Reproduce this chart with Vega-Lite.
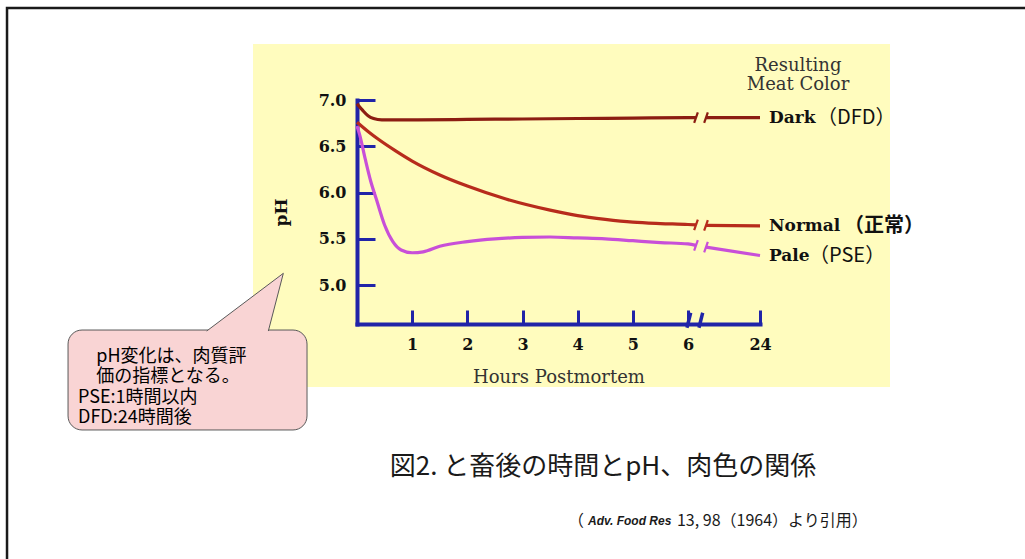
{
  "$schema": "https://vega.github.io/schema/vega-lite/v6.json",
  "width": 637,
  "height": 343,
  "autosize": {"type": "none"},
  "padding": {"left": 253, "top": 44, "right": 135, "bottom": 172},
  "background": "#ffffff",
  "config": {
    "view": {"stroke": null, "fill": "#FFFCBE"},
    "axis": {"grid": false}
  },
  "datasets": {
    "curves": [
      {"series": "Dark", "seg": "A", "hour": 0, "pH": 6.96},
      {"series": "Dark", "seg": "A", "hour": 0.1, "pH": 6.89},
      {"series": "Dark", "seg": "A", "hour": 0.2, "pH": 6.83},
      {"series": "Dark", "seg": "A", "hour": 0.3, "pH": 6.8},
      {"series": "Dark", "seg": "A", "hour": 0.45, "pH": 6.785},
      {"series": "Dark", "seg": "A", "hour": 1, "pH": 6.785},
      {"series": "Dark", "seg": "A", "hour": 2, "pH": 6.79},
      {"series": "Dark", "seg": "A", "hour": 3, "pH": 6.795},
      {"series": "Dark", "seg": "A", "hour": 4, "pH": 6.8},
      {"series": "Dark", "seg": "A", "hour": 5, "pH": 6.805},
      {"series": "Dark", "seg": "A", "hour": 6, "pH": 6.81},
      {"series": "Dark", "seg": "A", "hour": 8, "pH": 6.81},
      {"series": "Dark", "seg": "B", "hour": 10.5, "pH": 6.81},
      {"series": "Dark", "seg": "B", "hour": 24, "pH": 6.81},
      {"series": "Normal", "seg": "A", "hour": 0, "pH": 6.76},
      {"series": "Normal", "seg": "A", "hour": 0.2, "pH": 6.66},
      {"series": "Normal", "seg": "A", "hour": 0.4, "pH": 6.57},
      {"series": "Normal", "seg": "A", "hour": 0.7, "pH": 6.45},
      {"series": "Normal", "seg": "A", "hour": 1, "pH": 6.34},
      {"series": "Normal", "seg": "A", "hour": 1.5, "pH": 6.19},
      {"series": "Normal", "seg": "A", "hour": 2, "pH": 6.07},
      {"series": "Normal", "seg": "A", "hour": 2.7, "pH": 5.93},
      {"series": "Normal", "seg": "A", "hour": 3.5, "pH": 5.81},
      {"series": "Normal", "seg": "A", "hour": 4, "pH": 5.75},
      {"series": "Normal", "seg": "A", "hour": 4.5, "pH": 5.71},
      {"series": "Normal", "seg": "A", "hour": 5, "pH": 5.68},
      {"series": "Normal", "seg": "A", "hour": 5.5, "pH": 5.665},
      {"series": "Normal", "seg": "A", "hour": 6, "pH": 5.655},
      {"series": "Normal", "seg": "A", "hour": 8, "pH": 5.65},
      {"series": "Normal", "seg": "B", "hour": 10.5, "pH": 5.645},
      {"series": "Normal", "seg": "B", "hour": 24, "pH": 5.64},
      {"series": "Pale", "seg": "A", "hour": 0, "pH": 6.72},
      {"series": "Pale", "seg": "A", "hour": 0.05, "pH": 6.62},
      {"series": "Pale", "seg": "A", "hour": 0.15, "pH": 6.36},
      {"series": "Pale", "seg": "A", "hour": 0.25, "pH": 6.12},
      {"series": "Pale", "seg": "A", "hour": 0.35, "pH": 5.93},
      {"series": "Pale", "seg": "A", "hour": 0.5, "pH": 5.65},
      {"series": "Pale", "seg": "A", "hour": 0.65, "pH": 5.47},
      {"series": "Pale", "seg": "A", "hour": 0.8, "pH": 5.38},
      {"series": "Pale", "seg": "A", "hour": 1, "pH": 5.35},
      {"series": "Pale", "seg": "A", "hour": 1.2, "pH": 5.36},
      {"series": "Pale", "seg": "A", "hour": 1.5, "pH": 5.42},
      {"series": "Pale", "seg": "A", "hour": 2, "pH": 5.47},
      {"series": "Pale", "seg": "A", "hour": 2.5, "pH": 5.5},
      {"series": "Pale", "seg": "A", "hour": 3, "pH": 5.515},
      {"series": "Pale", "seg": "A", "hour": 3.5, "pH": 5.52},
      {"series": "Pale", "seg": "A", "hour": 4, "pH": 5.51},
      {"series": "Pale", "seg": "A", "hour": 4.5, "pH": 5.5},
      {"series": "Pale", "seg": "A", "hour": 5, "pH": 5.48},
      {"series": "Pale", "seg": "A", "hour": 5.5, "pH": 5.46},
      {"series": "Pale", "seg": "A", "hour": 6, "pH": 5.445},
      {"series": "Pale", "seg": "A", "hour": 8, "pH": 5.43},
      {"series": "Pale", "seg": "B", "hour": 10.5, "pH": 5.41},
      {"series": "Pale", "seg": "B", "hour": 24, "pH": 5.32}
    ]
  },
  "layer": [
    {
      "data": {"name": "curves"},
      "mark": {"type": "line", "interpolate": "monotone", "strokeWidth": 3.2, "strokeCap": "butt"},
      "encoding": {
        "x": {
          "field": "hour", "type": "quantitative",
          "scale": {"domain": [0, 6, 24], "range": [104, 435, 507], "nice": false, "zero": false},
          "axis": {
            "values": [1, 2, 3, 4, 5, 6, 24], "offset": -63,
            "domainColor": "#2024a8", "domainWidth": 4, "domainCap": "square",
            "tickColor": "#2024a8", "tickWidth": 3, "tickSize": -14,
            "labelFont": "DejaVu Serif", "labelFontWeight": "bold", "labelFontSize": 16, "labelColor": "#111111",
            "labelPadding": 34, "labelBaseline": "middle", "labelFlush": false, "labelOverlap": false,
            "title": "Hours Postmortem", "titleFont": "DejaVu Serif", "titleFontWeight": "normal", "titleFontSize": 18, "titleColor": "#333333", "titleY": 53, "titleBaseline": "middle"
          }
        },
        "y": {
          "field": "pH", "type": "quantitative",
          "scale": {"domain": [4.58, 7.0], "range": [280, 56], "nice": false, "zero": false},
          "axis": {
            "values": [5, 5.5, 6, 6.5, 7], "format": ".1f", "offset": -104,
            "domainColor": "#2024a8", "domainWidth": 4, "domainCap": "square",
            "tickColor": "#2024a8", "tickWidth": 3, "tickSize": -18,
            "labelFont": "DejaVu Serif", "labelFontWeight": "bold", "labelFontSize": 16, "labelColor": "#111111",
            "labelPadding": 29, "labelAlign": "right", "labelBaseline": "middle", "labelFlush": false, "labelOverlap": false,
            "title": "pH", "titleFont": "DejaVu Serif", "titleFontWeight": "bold", "titleFontSize": 17, "titleColor": "#111111",
            "titleX": -76, "titleY": 168, "titleAngle": -90, "titleAlign": "center", "titleBaseline": "middle"
          }
        },
        "color": {"field": "series", "type": "nominal", "scale": {"domain": ["Dark", "Normal", "Pale"], "range": ["#8c1d12", "#b72b1c", "#c84fd8"]}, "legend": null},
        "detail": {"field": "seg"}
      }
    },
    {
      "data": {"values": [{}]},
      "mark": {"type": "rect", "fill": "#ffffff", "fillOpacity": 0, "stroke": "#1a1a1a", "strokeWidth": 2.5},
      "encoding": {
        "x": {"datum": -6.344, "type": "quantitative", "scale": {"domain": [0, 6, 24], "range": [104, 435, 507], "nice": false, "zero": false}},
        "x2": {"datum": 91.5},
        "y": {"datum": 7.994, "type": "quantitative", "scale": {"domain": [4.58, 7.0], "range": [280, 56], "nice": false, "zero": false}},
        "y2": {"datum": 1.922}
      }
    },
    {
      "data": {"values": [{}]},
      "mark": {"type": "rect", "fill": "#F9D4D4", "stroke": "#595959", "strokeWidth": 1, "cornerRadius": 14},
      "encoding": {
        "x": {"datum": -5.238, "type": "quantitative", "scale": {"domain": [0, 6, 24], "range": [104, 435, 507], "nice": false, "zero": false}},
        "x2": {"datum": -0.906},
        "y": {"datum": 4.515, "type": "quantitative", "scale": {"domain": [4.58, 7.0], "range": [280, 56], "nice": false, "zero": false}},
        "y2": {"datum": 3.435}
      }
    },
    {
      "data": {"values": [{}]},
      "mark": {"type": "point", "shape": "M -0.958 0.75 L 0.958 -0.693 L 0.583 0.75", "size": 6400, "filled": true, "fill": "#F9D4D4", "stroke": "#595959", "strokeWidth": 1, "opacity": 1},
      "encoding": {
        "x": {"datum": -2.03, "type": "quantitative", "scale": {"domain": [0, 6, 24], "range": [104, 435, 507], "nice": false, "zero": false}},
        "y": {"datum": 4.828, "type": "quantitative", "scale": {"domain": [4.58, 7.0], "range": [280, 56], "nice": false, "zero": false}}
      }
    },
    {
      "data": {"values": [{}]},
      "mark": {"type": "text", "align": "left", "baseline": "middle", "font": "Noto Sans CJK JP", "fontSize": 18, "lineHeight": 20.3, "color": "#000000"},
      "encoding": {
        "x": {"datum": -4.725, "type": "quantitative", "scale": {"domain": [0, 6, 24], "range": [104, 435, 507], "nice": false, "zero": false}},
        "y": {"datum": 4.223, "type": "quantitative", "scale": {"domain": [4.58, 7.0], "range": [280, 56], "nice": false, "zero": false}},
        "text": {"value": ["pH変化は、肉質評", "価の指標となる。"]}
      }
    },
    {
      "data": {"values": [{}]},
      "mark": {"type": "text", "align": "left", "baseline": "middle", "font": "Noto Sans CJK JP", "fontSize": 18, "lineHeight": 20.3, "color": "#000000"},
      "encoding": {
        "x": {"datum": -5.057, "type": "quantitative", "scale": {"domain": [0, 6, 24], "range": [104, 435, 507], "nice": false, "zero": false}},
        "y": {"datum": 3.783, "type": "quantitative", "scale": {"domain": [4.58, 7.0], "range": [280, 56], "nice": false, "zero": false}},
        "text": {"value": ["PSE:1時間以内", "DFD:24時間後"]}
      }
    },
    {
      "data": {"name": "curves"},
      "transform": [{"filter": "datum.hour == 8 || datum.hour == 10.5"}],
      "mark": {"type": "point", "shape": "M -0.35 1 L 0.35 -1", "size": 110, "filled": false, "strokeWidth": 2.2, "opacity": 1},
      "encoding": {
        "x": {"field": "hour", "type": "quantitative", "scale": {"domain": [0, 6, 24], "range": [104, 435, 507], "nice": false, "zero": false}},
        "y": {"field": "pH", "type": "quantitative", "scale": {"domain": [4.58, 7.0], "range": [280, 56], "nice": false, "zero": false}},
        "color": {"field": "series", "type": "nominal", "scale": {"domain": ["Dark", "Normal", "Pale"], "range": ["#8c1d12", "#b72b1c", "#c84fd8"]}, "legend": null}
      }
    },
    {
      "data": {"values": [{"hour": 6.2}, {"hour": 9.2}]},
      "mark": {"type": "point", "shape": "M -0.25 1 L 0.25 -1", "size": 225, "filled": false, "stroke": "#2024a8", "strokeWidth": 3.5, "opacity": 1},
      "encoding": {
        "x": {"field": "hour", "type": "quantitative", "scale": {"domain": [0, 6, 24], "range": [104, 435, 507], "nice": false, "zero": false}},
        "y": {"datum": 4.62, "type": "quantitative", "scale": {"domain": [4.58, 7.0], "range": [280, 56], "nice": false, "zero": false}}
      }
    },
    {
      "data": {"name": "curves"},
      "transform": [{"filter": "datum.hour == 24"}],
      "mark": {"type": "text", "align": "left", "baseline": "middle", "dx": 9, "font": "DejaVu Serif", "fontWeight": "bold", "fontSize": 17, "color": "#111111"},
      "encoding": {
        "x": {"field": "hour", "type": "quantitative", "scale": {"domain": [0, 6, 24], "range": [104, 435, 507], "nice": false, "zero": false}},
        "y": {"field": "pH", "type": "quantitative", "scale": {"domain": [4.58, 7.0], "range": [280, 56], "nice": false, "zero": false}},
        "text": {"field": "series"}
      }
    },
    {
      "data": {"name": "curves"},
      "transform": [{"filter": "datum.hour == 24 && datum.series == 'Dark'"}],
      "mark": {"type": "text", "align": "left", "baseline": "middle", "dx": 57, "font": "Noto Sans CJK JP", "fontSize": 20, "color": "#111111"},
      "encoding": {
        "x": {"field": "hour", "type": "quantitative", "scale": {"domain": [0, 6, 24], "range": [104, 435, 507], "nice": false, "zero": false}},
        "y": {"field": "pH", "type": "quantitative", "scale": {"domain": [4.58, 7.0], "range": [280, 56], "nice": false, "zero": false}},
        "text": {"value": "（DFD）"}
      }
    },
    {
      "data": {"name": "curves"},
      "transform": [{"filter": "datum.hour == 24 && datum.series == 'Normal'"}],
      "mark": {"type": "text", "align": "left", "baseline": "middle", "dx": 84, "font": "Noto Sans CJK JP", "fontSize": 20, "fontWeight": "bold", "color": "#111111"},
      "encoding": {
        "x": {"field": "hour", "type": "quantitative", "scale": {"domain": [0, 6, 24], "range": [104, 435, 507], "nice": false, "zero": false}},
        "y": {"field": "pH", "type": "quantitative", "scale": {"domain": [4.58, 7.0], "range": [280, 56], "nice": false, "zero": false}},
        "text": {"value": "（正常）"}
      }
    },
    {
      "data": {"name": "curves"},
      "transform": [{"filter": "datum.hour == 24 && datum.series == 'Pale'"}],
      "mark": {"type": "text", "align": "left", "baseline": "middle", "dx": 49, "font": "Noto Sans CJK JP", "fontSize": 20, "color": "#111111"},
      "encoding": {
        "x": {"field": "hour", "type": "quantitative", "scale": {"domain": [0, 6, 24], "range": [104, 435, 507], "nice": false, "zero": false}},
        "y": {"field": "pH", "type": "quantitative", "scale": {"domain": [4.58, 7.0], "range": [280, 56], "nice": false, "zero": false}},
        "text": {"value": "（PSE）"}
      }
    },
    {
      "data": {"values": [{}]},
      "mark": {"type": "text", "align": "center", "baseline": "middle", "font": "DejaVu Serif", "fontSize": 18, "lineHeight": 19, "color": "#333333"},
      "encoding": {
        "x": {"datum": 33.5, "type": "quantitative", "scale": {"domain": [0, 6, 24], "range": [104, 435, 507], "nice": false, "zero": false}},
        "y": {"datum": 7.367, "type": "quantitative", "scale": {"domain": [4.58, 7.0], "range": [280, 56], "nice": false, "zero": false}},
        "text": {"value": ["Resulting", "Meat Color"]}
      }
    },
    {
      "data": {"values": [{}]},
      "mark": {"type": "text", "align": "center", "baseline": "middle", "font": "Noto Sans CJK JP", "fontSize": 26, "color": "#1a1a1a"},
      "encoding": {
        "x": {"datum": 4.459, "type": "quantitative", "scale": {"domain": [0, 6, 24], "range": [104, 435, 507], "nice": false, "zero": false}},
        "y": {"datum": 3.035, "type": "quantitative", "scale": {"domain": [4.58, 7.0], "range": [280, 56], "nice": false, "zero": false}},
        "text": {"value": "図2. と畜後の時間とpH、肉色の関係"}
      }
    },
    {
      "data": {"values": [{}]},
      "mark": {"type": "text", "align": "left", "baseline": "middle", "font": "Noto Sans CJK JP", "fontSize": 16, "color": "#1a1a1a"},
      "encoding": {
        "x": {"datum": 3.825, "type": "quantitative", "scale": {"domain": [0, 6, 24], "range": [104, 435, 507], "nice": false, "zero": false}},
        "y": {"datum": 2.451, "type": "quantitative", "scale": {"domain": [4.58, 7.0], "range": [280, 56], "nice": false, "zero": false}},
        "text": {"value": "（"}
      }
    },
    {
      "data": {"values": [{}]},
      "mark": {"type": "text", "align": "left", "baseline": "middle", "font": "Liberation Sans", "fontSize": 12, "fontWeight": "bold", "fontStyle": "italic", "color": "#1a1a1a"},
      "encoding": {
        "x": {"datum": 4.187, "type": "quantitative", "scale": {"domain": [0, 6, 24], "range": [104, 435, 507], "nice": false, "zero": false}},
        "y": {"datum": 2.451, "type": "quantitative", "scale": {"domain": [4.58, 7.0], "range": [280, 56], "nice": false, "zero": false}},
        "text": {"value": "Adv. Food Res"}
      }
    },
    {
      "data": {"values": [{}]},
      "mark": {"type": "text", "align": "left", "baseline": "middle", "font": "Noto Sans CJK JP", "fontSize": 16, "color": "#1a1a1a"},
      "encoding": {
        "x": {"datum": 5.8, "type": "quantitative", "scale": {"domain": [0, 6, 24], "range": [104, 435, 507], "nice": false, "zero": false}},
        "y": {"datum": 2.451, "type": "quantitative", "scale": {"domain": [4.58, 7.0], "range": [280, 56], "nice": false, "zero": false}},
        "text": {"value": "13, 98（1964）より引用）"}
      }
    }
  ]
}
